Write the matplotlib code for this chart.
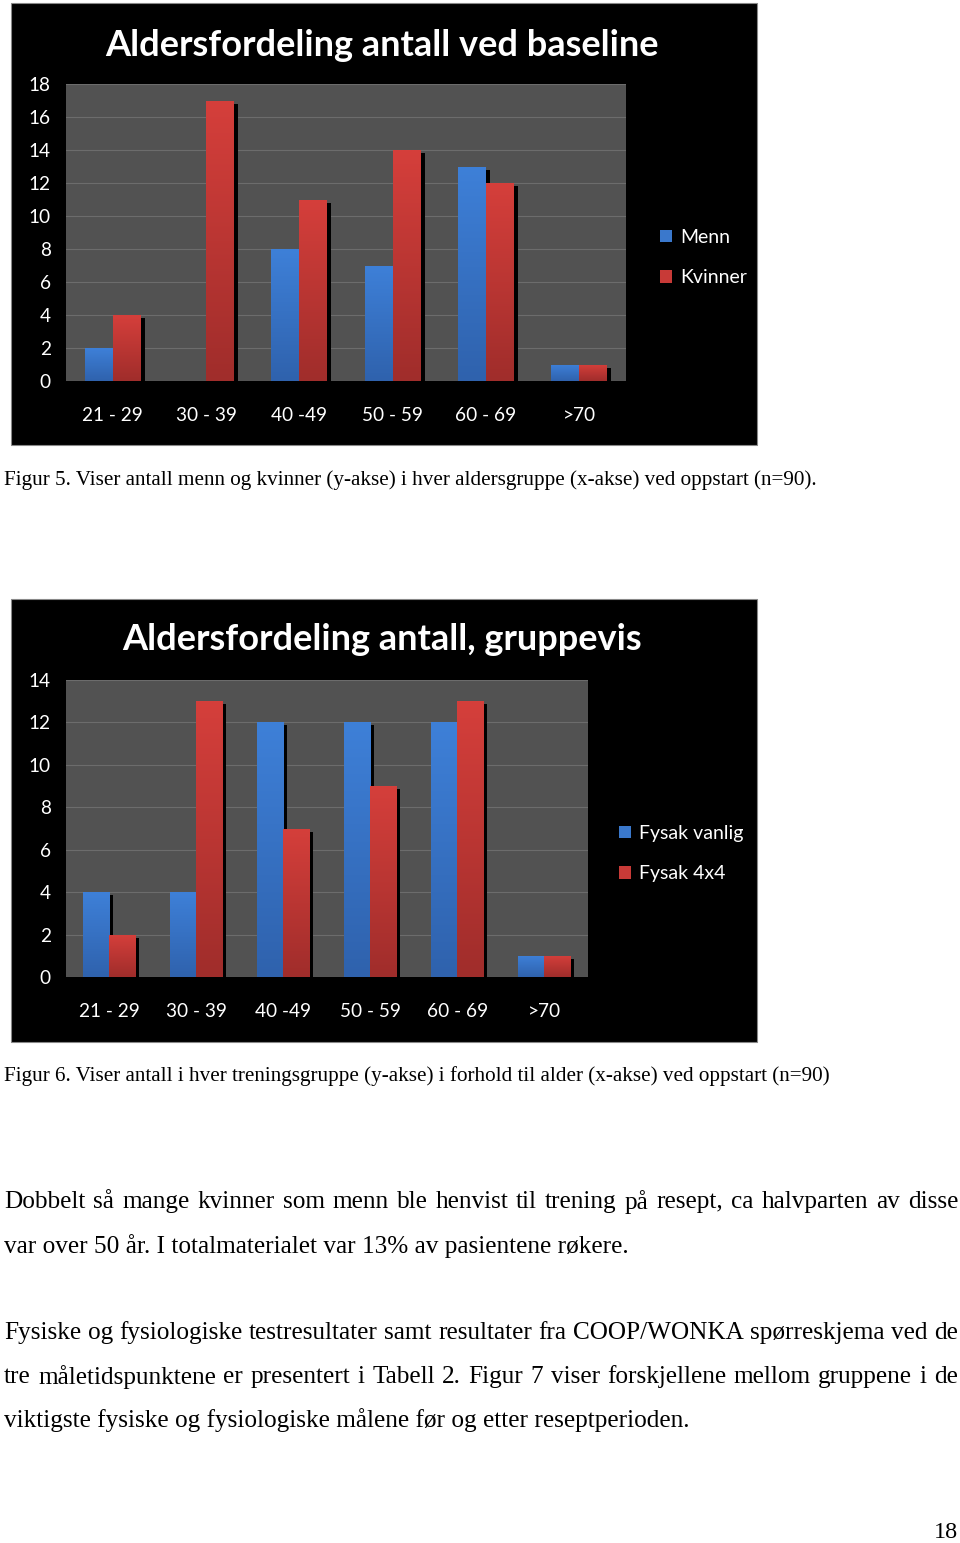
import numpy as np
import matplotlib
matplotlib.use("Agg")
import matplotlib.pyplot as plt
from matplotlib.patches import Rectangle, Patch
from matplotlib.colors import LinearSegmentedColormap
import matplotlib.patheffects as pe

# --- data ---
age_groups = ["21 - 29", "30 - 39", "40 -49", "50 - 59", "60 - 69", ">70"]
menn = [2, 0, 8, 7, 13, 1]
kvinner = [4, 17, 11, 14, 12, 1]
fysak_vanlig = [4, 4, 12, 12, 12, 1]
fysak_4x4 = [2, 13, 7, 9, 13, 1]

W, H = 960, 1543
fig = plt.figure(figsize=(W / 100, H / 100), dpi=100)
fig.patch.set_facecolor("white")

blue_cm = LinearSegmentedColormap.from_list("b", ["#2f62ad", "#3e80d8"])
red_cm = LinearSegmentedColormap.from_list("r", ["#a02d2b", "#d53f3b"])
CHART_FONT = "Lato"


def px_box(x0, y0, x1, y1):
    # pixel box (top-left origin) -> figure fraction rect
    return [x0 / W, 1 - y1 / H, (x1 - x0) / W, (y1 - y0) / H]


def draw_chart(box, plot, title, title_y, s1, s2, labels, ymax, leg_xy):
    fig.patches.append(Rectangle((box[0] / W, 1 - box[3] / H),
                                 (box[2] - box[0]) / W, (box[3] - box[1]) / H,
                                 transform=fig.transFigure, facecolor="black",
                                 edgecolor="#888888", linewidth=0.8, zorder=-5))
    fig.text(382 / W, 1 - (title_y + 2) / H, title,
             color="white", fontsize=26, fontweight="bold", family=CHART_FONT,
             ha="center", va="center")
    ax = fig.add_axes(px_box(*plot))
    ax.set_facecolor("#525252")
    x = np.arange(len(labels))
    w = 0.3
    shadow = [pe.SimplePatchShadow(offset=(2.8, -2.2), shadow_rgbFace="black", alpha=1.0),
              pe.Normal()]
    b1 = ax.bar(x - w / 2, s1, w, color="#3a78cc", zorder=2, path_effects=shadow)
    b2 = ax.bar(x + w / 2, s2, w, color="#c83a37", zorder=2, path_effects=shadow)
    grad = np.linspace(0, 1, 100).reshape(-1, 1)
    for bars, cm in ((b1, blue_cm), (b2, red_cm)):
        for p in bars:
            if p.get_height() <= 0:
                continue
            x0, y0 = p.get_x(), p.get_y()
            im = ax.imshow(grad, extent=[x0, x0 + p.get_width(), y0, y0 + p.get_height()],
                           origin="lower", cmap=cm, aspect="auto", zorder=3)
            im.set_clip_path(p)
    ax.set_xlim(-0.5, len(labels) - 0.5)
    ax.set_ylim(0, ymax)
    ax.set_yticks(np.arange(0, ymax + 1, 2))
    ax.set_xticks(x)
    ax.set_xticklabels(labels)
    ax.yaxis.grid(True, color="#6c6c6c", linewidth=0.8)
    ax.set_axisbelow(True)
    for s in ax.spines.values():
        s.set_visible(False)
    ax.tick_params(axis="y", length=0, pad=11, labelcolor="white", labelsize=13.7)
    ax.tick_params(axis="x", length=0, pad=18.5, labelcolor="white", labelsize=13.7)
    for t in ax.get_xticklabels() + ax.get_yticklabels():
        t.set_family(CHART_FONT)
    handles = [Patch(facecolor="#3a78cc"), Patch(facecolor="#c83a37")]
    fig.legend(handles, leg_xy[2], loc="upper left",
               bbox_to_anchor=(leg_xy[0] / W, 1 - leg_xy[1] / H), frameon=False,
               handlelength=0.6, handleheight=0.6, handletextpad=0.45,
               labelspacing=1.2, borderaxespad=0, borderpad=0,
               prop={"family": CHART_FONT, "size": 14}, labelcolor="white")
    return ax


draw_chart((11, 3, 757, 445), (66, 84, 626, 381), "Aldersfordeling antall ved baseline", 43,
           menn, kvinner, age_groups, 18, (660, 229, ["Menn", "Kvinner"]))
draw_chart((11, 599, 757, 1042), (66, 680, 588, 977), "Aldersfordeling antall, gruppevis", 638,
           fysak_vanlig, fysak_4x4, age_groups, 14, (619, 825, ["Fysak vanlig", "Fysak 4x4"]))

SERIF = "Liberation Serif"
fig.text(4 / W, 1 - 480 / H,
         "Figur 5. Viser antall menn og kvinner (y-akse) i hver aldersgruppe (x-akse) ved oppstart (n=90).",
         family=SERIF, fontsize=15.2, va="center", ha="left")
fig.text(4 / W, 1 - 1076 / H,
         "Figur 6. Viser antall i hver treningsgruppe (y-akse) i forhold til alder (x-akse) ved oppstart (n=90)",
         family=SERIF, fontsize=15.2, va="center", ha="left")

# paragraph lines: (y pixel, text, justified)
lines = [
    (1202, "Dobbelt så mange kvinner som menn ble henvist til trening på resept, ca halvparten av disse", True),
    (1246, "var over 50 år. I totalmaterialet var 13% av pasientene røkere.", False),
    (1333, "Fysiske og fysiologiske testresultater samt resultater fra COOP/WONKA spørreskjema ved de", True),
    (1377, "tre måletidspunktene er presentert i Tabell 2. Figur 7 viser forskjellene mellom gruppene i de", True),
    (1420, "viktigste fysiske og fysiologiske målene før og etter reseptperioden.", False),
]
renderer = fig.canvas.get_renderer()
FS = 18.2
for y, s, just in lines:
    if not just:
        fig.text(4 / W, 1 - y / H, s, family=SERIF, fontsize=FS, va="center", ha="left")
        continue
    words = s.split(" ")
    texts = [fig.text(0, 1 - y / H, wd, family=SERIF, fontsize=FS, va="center", ha="left")
             for wd in words]
    widths = [t.get_window_extent(renderer).width for t in texts]
    gap = (958 - 4 - sum(widths)) / (len(words) - 1)
    xpos = 4
    for t, wdt in zip(texts, widths):
        t.set_x(xpos / W)
        xpos += wdt + gap

fig.text(958 / W, 1 - 1532 / H, "18", family=SERIF, fontsize=17.5, va="center", ha="right")

fig.savefig("out.png", dpi=100, facecolor="white")
